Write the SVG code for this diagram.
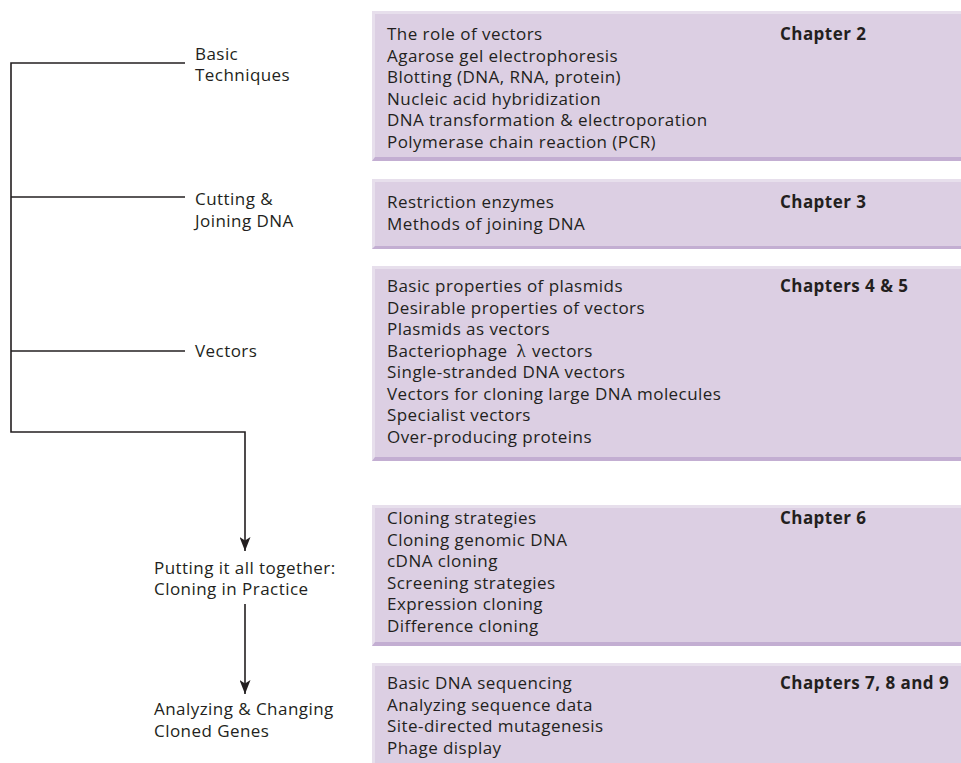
<svg xmlns="http://www.w3.org/2000/svg" width="961" height="763" viewBox="0 0 961 763">
<style>
text{font-family:"Open Sans","Noto Sans","Liberation Sans",sans-serif;font-size:17px;letter-spacing:0.45px;fill:#231f20}
.ch{font-weight:bold}
.fill{fill:#dccfe3}
.top{fill:#e7dfec}
.bot{fill:#c3aed2}
.wire{fill:none;stroke:#231f20;stroke-width:1.6}
</style>
<defs>
<marker id="ah" viewBox="0 0 14 11" refX="14" refY="5.5" markerWidth="14" markerHeight="11" markerUnits="userSpaceOnUse" orient="auto">
<path d="M0,0 L14,5.5 L0,11 L3.5,5.5 Z" fill="#231f20"/>
</marker>
</defs>
<rect width="961" height="763" fill="#fff"/>

<g id="connectors">
<path class="wire" d="M185,63 H11 V432 H245 V551" marker-end="url(#ah)"/>
<path class="wire" d="M11,197 H185"/>
<path class="wire" d="M11,351 H185"/>
<path class="wire" d="M245,604 V694" marker-end="url(#ah)"/>
</g>

<g id="label-basic">
<text x="195" y="60">Basic</text>
<text x="195" y="81">Techniques</text>
</g>
<g id="label-cutting">
<text x="195" y="205">Cutting &amp;</text>
<text x="195" y="227">Joining DNA</text>
</g>
<g id="label-vectors">
<text x="195" y="357">Vectors</text>
</g>
<g id="label-putting">
<text x="154" y="574">Putting it all together:</text>
<text x="154" y="595">Cloning in Practice</text>
</g>
<g id="label-analyzing">
<text x="154" y="715">Analyzing &amp; Changing</text>
<text x="154" y="737">Cloned Genes</text>
</g>

<g id="box-ch2">
<rect class="fill" x="372" y="11" width="589" height="150"/>
<rect class="top" x="372" y="11" width="589" height="3"/>
<rect class="top" x="372" y="11" width="3" height="150"/>
<polygon class="bot" points="372,161 375,157 961,157 961,161"/>
<text x="387" y="40">The role of vectors</text>
<text x="387" y="61.5">Agarose gel electrophoresis</text>
<text x="387" y="83">Blotting (DNA, RNA, protein)</text>
<text x="387" y="104.5">Nucleic acid hybridization</text>
<text x="387" y="126">DNA transformation &amp; electroporation</text>
<text x="387" y="147.5">Polymerase chain reaction (PCR)</text>
<text class="ch" x="780" y="40">Chapter 2</text>
</g>

<g id="box-ch3">
<rect class="fill" x="372" y="179" width="589" height="70"/>
<rect class="top" x="372" y="179" width="589" height="3"/>
<rect class="top" x="372" y="179" width="3" height="70"/>
<polygon class="bot" points="372,249 375,246 961,246 961,249"/>
<text x="387" y="208">Restriction enzymes</text>
<text x="387" y="229.5">Methods of joining DNA</text>
<text class="ch" x="780" y="208">Chapter 3</text>
</g>

<g id="box-ch45">
<rect class="fill" x="372" y="266" width="589" height="195"/>
<rect class="top" x="372" y="266" width="589" height="3"/>
<rect class="top" x="372" y="266" width="3" height="195"/>
<polygon class="bot" points="372,461 375,457 961,457 961,461"/>
<text x="387" y="292">Basic properties of plasmids</text>
<text x="387" y="313.5">Desirable properties of vectors</text>
<text x="387" y="335">Plasmids as vectors</text>
<text x="387" y="356.5">Bacteriophage <tspan dx="4" font-family="Liberation Serif,serif" font-size="19">λ</tspan><tspan dx="6">vectors</tspan></text>
<text x="387" y="378">Single-stranded DNA vectors</text>
<text x="387" y="399.5">Vectors for cloning large DNA molecules</text>
<text x="387" y="421">Specialist vectors</text>
<text x="387" y="442.5">Over-producing proteins</text>
<text class="ch" x="780" y="292">Chapters 4 &amp; 5</text>
</g>

<g id="box-ch6">
<rect class="fill" x="372" y="505" width="589" height="141"/>
<rect class="top" x="372" y="505" width="589" height="3"/>
<rect class="top" x="372" y="505" width="3" height="141"/>
<polygon class="bot" points="372,646 375,642 961,642 961,646"/>
<text x="387" y="524">Cloning strategies</text>
<text x="387" y="545.5">Cloning genomic DNA</text>
<text x="387" y="567">cDNA cloning</text>
<text x="387" y="588.5">Screening strategies</text>
<text x="387" y="610">Expression cloning</text>
<text x="387" y="631.5">Difference cloning</text>
<text class="ch" x="780" y="524">Chapter 6</text>
</g>

<g id="box-ch789">
<rect class="fill" x="372" y="663" width="589" height="100"/>
<rect class="top" x="372" y="663" width="589" height="3"/>
<rect class="top" x="372" y="663" width="3" height="100"/>
<text x="387" y="689">Basic DNA sequencing</text>
<text x="387" y="710.5">Analyzing sequence data</text>
<text x="387" y="732">Site-directed mutagenesis</text>
<text x="387" y="753.5">Phage display</text>
<text class="ch" x="780" y="689">Chapters 7, 8 and 9</text>
</g>
</svg>
